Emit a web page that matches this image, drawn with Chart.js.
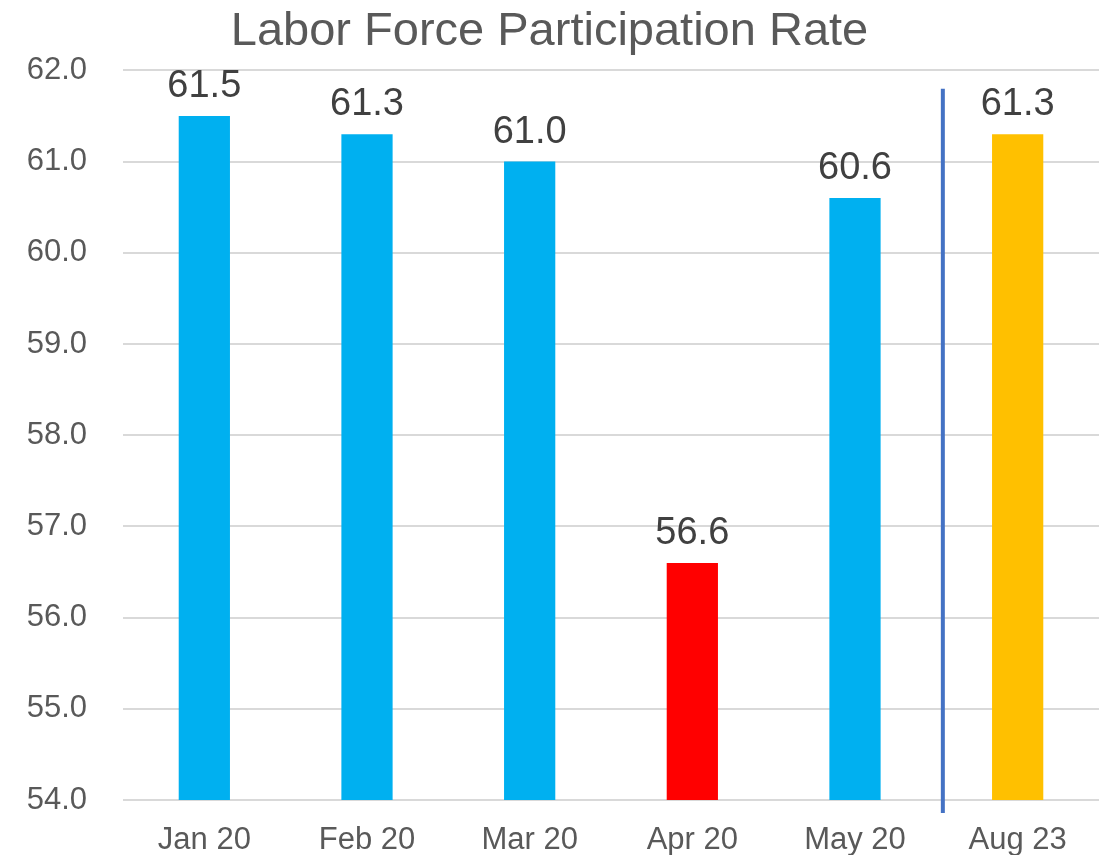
<!DOCTYPE html>
<html>
<head>
<meta charset="utf-8">
<script src="https://cdn.jsdelivr.net/npm/chart.js@4"></script>
<style>
html,body{margin:0;padding:0;background:#fff;}
#wrap{width:1111px;height:855px;position:relative;}
</style>
</head>
<body>
<div id="wrap"><canvas id="c"></canvas></div>
<script>
const categories = ["Jan 20", "Feb 20", "Mar 20", "Apr 20", "May 20", "Aug 23"];
const values = [61.5, 61.3, 61.0, 56.6, 60.6, 61.3];
const barColors = ["#00B0F0", "#00B0F0", "#00B0F0", "#FF0000", "#00B0F0", "#FFC000"];
const yMin = 54, yMax = 62, yStep = 1;
const dividerIndex = 4.54;
const dividerTopValue = 61.8;
const titleText = "Labor Force Participation Rate";
const FONT = "'Liberation Sans', Arial, sans-serif";

const valueLabels = {
  id: 'valueLabels',
  afterDatasetsDraw(chart) {
    const ctx = chart.ctx;
    const meta = chart.getDatasetMeta(0);
    ctx.save();
    ctx.font = "38px " + FONT;
    ctx.fillStyle = "#404040";
    ctx.textAlign = "center";
    ctx.textBaseline = "alphabetic";
    meta.data.forEach((bar, i) => {
      ctx.fillText(values[i].toFixed(1), bar.x, bar.y - 19);
    });
    ctx.restore();
  }
};

const divider = {
  id: 'divider',
  afterDatasetsDraw(chart) {
    const ctx = chart.ctx;
    const xs = chart.scales.x, ys = chart.scales.y;
    const x = xs.getPixelForValue(dividerIndex);
    const top = ys.getPixelForValue(dividerTopValue);
    const bottom = chart.chartArea.bottom + 13;
    ctx.save();
    ctx.strokeStyle = "#4472C4";
    ctx.lineWidth = 4;
    ctx.beginPath();
    ctx.moveTo(x, top);
    ctx.lineTo(x, bottom);
    ctx.stroke();
    ctx.restore();
  }
};

new Chart(document.getElementById('c'), {
  type: 'bar',
  data: {
    labels: categories,
    datasets: [{
      data: values,
      backgroundColor: barColors,
      borderWidth: 0,
      categoryPercentage: 1,
      barPercentage: 0.315
    }]
  },
  options: {
    responsive: true,
    maintainAspectRatio: false,
    animation: false,
    layout: { padding: { left: 0, right: 12, top: 0, bottom: 0 } },
    plugins: {
      legend: { display: false },
      tooltip: { enabled: false },
      title: {
        display: true,
        text: titleText,
        color: "#595959",
        font: { family: FONT, size: 47, weight: 'normal' },
        padding: { top: 4, bottom: 10 }
      }
    },
    scales: {
      x: {
        afterFit(scale) { scale.height = 55; },
        grid: { display: false, drawTicks: false },
        border: { display: false },
        ticks: { color: "#595959", font: { family: FONT, size: 31 }, padding: 22, maxRotation: 0 }
      },
      y: {
        min: yMin, max: yMax,
        afterFit(scale) { scale.width = 123; },
        grid: { color: "#D9D9D9", lineWidth: 2, drawTicks: false },
        border: { display: false },
        ticks: {
          stepSize: yStep,
          color: "#595959",
          font: { family: FONT, size: 31 },
          padding: 36,
          callback: v => Number(v).toFixed(1)
        }
      }
    }
  },
  plugins: [valueLabels, divider]
});
</script>
</body>
</html>
